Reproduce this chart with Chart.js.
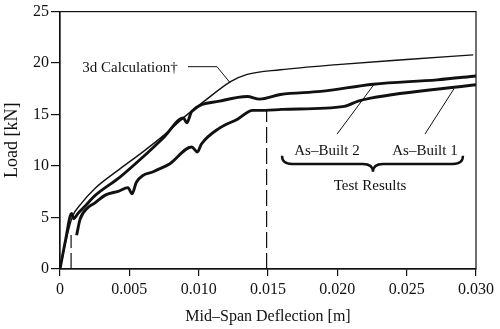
<!DOCTYPE html>
<html>
<head>
<meta charset="utf-8">
<script src="https://cdn.jsdelivr.net/npm/chart.js@4/dist/chart.umd.min.js"></script>
<style>
  html, body { margin: 0; padding: 0; background: #fff; }
  #wrap { width: 500px; height: 329px; }
</style>
</head>
<body>
<div id="wrap"><canvas id="myChart"></canvas></div>
<script>
// values (deflection in m, load in kN)
const calcX = [0, 0.0004, 0.0009, 0.0015, 0.0025, 0.0043, 0.006, 0.0075, 0.009, 0.0105, 0.0123, 0.0135, 0.0159, 0.020, 0.025, 0.0298];
const calcY = [0, 2.6, 5.1, 6.3, 7.8, 9.7, 11.4, 13.0, 14.8, 16.4, 18.2, 18.9, 19.35, 19.85, 20.35, 20.8];

const ab2X = [0, 0.0004, 0.00084, 0.0010, 0.0013, 0.0018, 0.0025, 0.0043, 0.006, 0.0075, 0.0089, 0.00914, 0.0095, 0.0115, 0.0135, 0.0144, 0.0159, 0.0188, 0.0226, 0.0272, 0.0300];
const ab2Y = [0, 2.8, 5.4, 4.9, 5.4, 6.1, 7.1, 8.9, 10.9, 12.8, 14.67, 14.19, 15.3, 16.3, 16.76, 16.5, 16.95, 17.25, 17.95, 18.37, 18.75];

const ab1X = [0.0012, 0.00144, 0.00204, 0.0025, 0.0033, 0.0042, 0.0049, 0.0052, 0.0055, 0.0068, 0.0079, 0.0095, 0.0099, 0.0102, 0.0115, 0.0128, 0.0139, 0.0148, 0.016, 0.0205, 0.0215, 0.0224, 0.030];
const ab1Y = [3.28, 4.8, 6.0, 6.4, 7.2, 7.55, 7.9, 7.3, 8.4, 9.5, 10.2, 11.85, 11.37, 12.14, 13.68, 14.55, 15.41, 15.41, 15.5, 15.8, 16.3, 16.6, 17.9];

// dashed markers
const crackX = [0.0008, 0.0008];
const crackY = [0, 3.3];
const serviceX = [0.0149, 0.0149];
const serviceY = [0, 15.4];

const xTickValues = [0, 0.005, 0.010, 0.015, 0.020, 0.025, 0.030];
const xTickLabels = ["0", "0.005", "0.010", "0.015", "0.020", "0.025", "0.030"];
const yTickValues = [0, 5, 10, 15, 20, 25];

const toPoints = (xs, ys) => xs.map((x, i) => ({ x: x, y: ys[i] }));

const FONT = "Liberation Serif";
const INK = "#111";

// annotations: text labels, leader lines and the brace (data units)
const annotations = {
  texts: [
    { text: "3d Calculation\u2020", x: 0.00505, y: 19.5 },
    { text: "As\u2013Built 2", x: 0.01925, y: 11.5 },
    { text: "As\u2013Built 1", x: 0.02632, y: 11.5 },
    { text: "Test Results", x: 0.02236, y: 8.1 }
  ],
  leaders: [
    [[0.00923, 19.65], [0.01132, 19.65], [0.01226, 18.1]],
    [[0.01998, 13.1], [0.02264, 17.92]],
    [[0.02632, 13.1], [0.02841, 17.5]]
  ],
  brace: { x1: 0.01601, x2: 0.02906, xm: 0.02257, tip: 11.0, body: 10.2, point: 9.44 }
};

const annotatePlugin = {
  id: "annotate",
  afterDatasetsDraw(chart) {
    const ctx = chart.ctx;
    const xs = chart.scales.x, ys = chart.scales.y;
    const area = chart.chartArea;
    ctx.save();
    // frame
    ctx.strokeStyle = INK;
    ctx.lineWidth = 1.2;
    ctx.strokeRect(area.left, area.top, area.right - area.left, area.bottom - area.top);

    // leader lines
    ctx.lineWidth = 1;
    annotations.leaders.forEach(pts => {
      ctx.beginPath();
      pts.forEach((p, i) => {
        const px = xs.getPixelForValue(p[0]), py = ys.getPixelForValue(p[1]);
        if (i === 0) ctx.moveTo(px, py); else ctx.lineTo(px, py);
      });
      ctx.stroke();
    });

    // brace
    const b = annotations.brace;
    const x1 = xs.getPixelForValue(b.x1), x2 = xs.getPixelForValue(b.x2), xm = xs.getPixelForValue(b.xm);
    const yt = ys.getPixelForValue(b.tip), yb = ys.getPixelForValue(b.body), yp = ys.getPixelForValue(b.point);
    const r = 10;
    ctx.lineWidth = 2.4;
    ctx.beginPath();
    ctx.moveTo(x1, yt);
    ctx.quadraticCurveTo(x1, yb, x1 + r, yb);
    ctx.lineTo(xm - r, yb);
    ctx.quadraticCurveTo(xm, yb, xm, yp);
    ctx.quadraticCurveTo(xm, yb, xm + r, yb);
    ctx.lineTo(x2 - r, yb);
    ctx.quadraticCurveTo(x2, yb, x2, yt);
    ctx.stroke();

    // texts
    ctx.fillStyle = INK;
    ctx.font = "15px '" + FONT + "'";
    ctx.textAlign = "center";
    ctx.textBaseline = "middle";
    annotations.texts.forEach(t => {
      ctx.fillText(t.text, xs.getPixelForValue(t.x), ys.getPixelForValue(t.y));
    });
    ctx.restore();
  }
};

const lineSet = (xs, ys, width) => ({
  data: toPoints(xs, ys),
  showLine: true,
  borderColor: INK,
  borderWidth: width,
  pointRadius: 0,
  cubicInterpolationMode: "monotone",
  fill: false
});

const dashSet = (xs, ys) => ({
  data: toPoints(xs, ys),
  showLine: true,
  borderColor: INK,
  borderWidth: 1.2,
  borderDash: [16, 5],
  pointRadius: 0
});

new Chart(document.getElementById("myChart").getContext("2d"), {
  type: "scatter",
  data: {
    datasets: [
      dashSet(crackX, crackY),
      dashSet(serviceX, serviceY),
      lineSet(calcX, calcY, 1.4),
      lineSet(ab2X, ab2Y, 2.9),
      lineSet(ab1X, ab1Y, 2.9)
    ]
  },
  options: {
    responsive: true,
    maintainAspectRatio: false,
    animation: false,
    layout: { padding: { top: 9, right: 24 } },
    plugins: { legend: { display: false }, tooltip: { enabled: false } },
    scales: {
      x: {
        type: "linear",
        min: 0,
        max: 0.03,
        afterFit: s => { s.height = 60; },
        afterBuildTicks: s => { s.ticks = xTickValues.map(v => ({ value: v })); },
        ticks: {
          color: INK,
          font: { family: FONT, size: 16 },
          padding: 4,
          maxRotation: 0,
          callback: (v) => {
            const i = xTickValues.findIndex(t => Math.abs(t - v) < 1e-9);
            return i >= 0 ? xTickLabels[i] : "";
          }
        },
        grid: { drawOnChartArea: false, drawTicks: true, tickLength: 7, color: INK, lineWidth: 1.2 },
        border: { display: true, color: INK, width: 1.2 },
        title: {
          display: true,
          text: "Mid\u2013Span Deflection [m]",
          color: INK,
          font: { family: FONT, size: 16 },
          padding: { top: 2, bottom: 3 }
        }
      },
      y: {
        type: "linear",
        min: 0,
        max: 25,
        afterFit: s => { s.width = 60; },
        afterBuildTicks: s => { s.ticks = yTickValues.map(v => ({ value: v })); },
        ticks: {
          color: INK,
          font: { family: FONT, size: 16 },
          padding: 2
        },
        grid: { drawOnChartArea: false, drawTicks: true, tickLength: 9, color: INK, lineWidth: 1.2 },
        border: { display: true, color: INK, width: 1.2 },
        title: {
          display: true,
          text: "Load [kN]",
          color: INK,
          font: { family: FONT, size: 18 },
          padding: { top: 1, bottom: 2 }
        }
      }
    }
  },
  plugins: [annotatePlugin]
});
</script>
</body>
</html>
